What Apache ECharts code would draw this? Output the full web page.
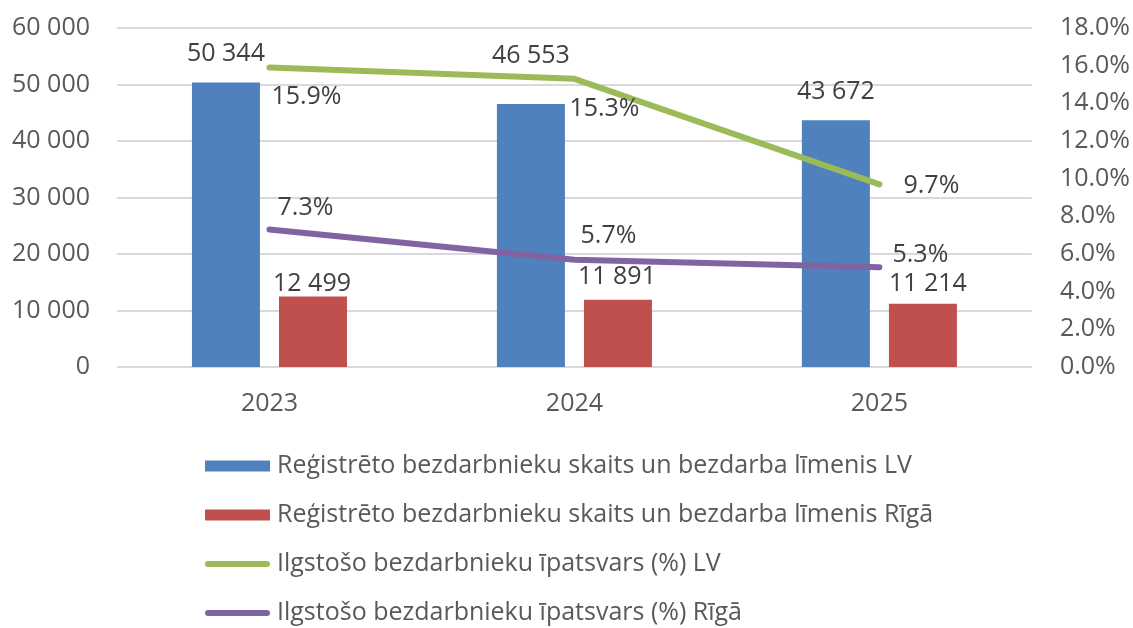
<!DOCTYPE html>
<html>
<head>
<meta charset="utf-8">
<script src="https://cdn.jsdelivr.net/npm/echarts@6/dist/echarts.min.js"></script>
<style>
  html, body { margin: 0; padding: 0; background: #ffffff; }
  #chart { width: 1133px; height: 628px; }
</style>
</head>
<body>
<div id="chart"></div>
<script>
// Unemployment figures, Latvia vs Riga
const years = ['2023', '2024', '2025'];
const registeredLV = [50344, 46553, 43672];
const registeredRiga = [12499, 11891, 11214];
const longTermShareLV = [15.9, 15.3, 9.7];     // %
const longTermShareRiga = [7.3, 5.7, 5.3];     // %

const seriesNames = [
  'Reģistrēto bezdarbnieku skaits un bezdarba līmenis LV',
  'Reģistrēto bezdarbnieku skaits un bezdarba līmenis Rīgā',
  'Ilgstošo bezdarbnieku īpatsvars (%) LV',
  'Ilgstošo bezdarbnieku īpatsvars (%) Rīgā'
];

const FONT = '"Open Sans", "Noto Sans", sans-serif';
const AXIS_GREY = '#595959';
const LABEL_GREY = '#404040';
const GREEN = '#9BBB59';
const PURPLE = '#8064A2';

// thousands with a space: 50344 -> "50 344"
const spaced = v => String(Math.round(v)).replace(/\B(?=(\d{3})+(?!\d))/g, ' ');
const pct = v => v.toFixed(1) + '%';

// hand-placed label nudges (per point)
const barNudgeLV = [[0, -17], [0, -36], [0, -16]];
const barNudgeRiga = [[-1, -1], [-1, -11], [5, -8]];
const lineNudgeLV = [[37, 29], [30, 30], [52, 2]];
const lineNudgeRiga = [[36, -22], [34, -24], [41, -12]];

function withNudge(values, nudges) {
  return values.map((v, i) => ({ value: v, label: { offset: nudges[i] } }));
}

// thick capsule used as the legend mark of the line series
const LINE_ICON = 'path://M3,0 H62 A3,3 0 0 1 62,6 H3 A3,3 0 0 1 3,0 Z';

const barLabel = {
  show: true,
  position: 'top',
  distance: 0,
  formatter: p => spaced(p.value),
  color: LABEL_GREY,
  fontFamily: FONT,
  fontSize: 25,
  lineHeight: 24
};

const lineLabel = {
  show: true,
  position: 'inside',
  formatter: p => pct(p.value),
  color: LABEL_GREY,
  fontFamily: FONT,
  fontSize: 25
};

const chart = echarts.init(document.getElementById('chart'), null, { renderer: 'canvas' });

chart.setOption({
  backgroundColor: '#ffffff',
  animation: false,
  textStyle: { fontFamily: FONT },
  grid: { left: 117, right: 101, top: 28, height: 339, containLabel: false },
  xAxis: {
    type: 'category',
    data: years,
    axisLine: { show: false },
    axisTick: { show: false },
    axisLabel: { color: AXIS_GREY, fontFamily: FONT, fontSize: 25, margin: 24 }
  },
  yAxis: [
    {
      type: 'value',
      min: 0, max: 60000, interval: 10000,
      axisLine: { show: false },
      axisTick: { show: false },
      splitLine: { lineStyle: { color: '#D9D9D9', width: 2 } },
      axisLabel: { color: AXIS_GREY, fontFamily: FONT, fontSize: 25, margin: 27, formatter: spaced }
    },
    {
      type: 'value',
      min: 0, max: 18, interval: 2,
      position: 'right',
      axisLine: { show: false },
      axisTick: { show: false },
      splitLine: { show: false },
      axisLabel: { color: AXIS_GREY, fontFamily: FONT, fontSize: 25, margin: 28, formatter: pct }
    }
  ],
  legend: {
    orient: 'vertical',
    left: 205,
    top: 451,
    height: 400,
    padding: 0,
    itemWidth: 65,
    itemHeight: 11,
    itemGap: 19,
    textStyle: { color: AXIS_GREY, fontFamily: FONT, fontSize: 25, lineHeight: 30, padding: [0, 0, 0, 2] },
    data: [
      { name: seriesNames[0], icon: 'rect' },
      { name: seriesNames[1], icon: 'rect' },
      { name: seriesNames[2], icon: LINE_ICON, itemStyle: { color: GREEN } },
      { name: seriesNames[3], icon: LINE_ICON, itemStyle: { color: PURPLE } }
    ]
  },
  series: [
    {
      name: seriesNames[0],
      type: 'bar',
      yAxisIndex: 0,
      barWidth: 68,
      barGap: '28%',
      itemStyle: { color: '#4F81BD' },
      label: barLabel,
      data: withNudge(registeredLV, barNudgeLV)
    },
    {
      name: seriesNames[1],
      type: 'bar',
      yAxisIndex: 0,
      barWidth: 68,
      barGap: '28%',
      itemStyle: { color: '#C0504D' },
      label: barLabel,
      data: withNudge(registeredRiga, barNudgeRiga)
    },
    {
      name: seriesNames[2],
      type: 'line',
      yAxisIndex: 1,
      symbol: 'circle',
      symbolSize: 1,
      itemStyle: { color: GREEN },
      lineStyle: { color: GREEN, width: 6, cap: 'round', join: 'round' },
      label: lineLabel,
      data: withNudge(longTermShareLV, lineNudgeLV),
      z: 3
    },
    {
      name: seriesNames[3],
      type: 'line',
      yAxisIndex: 1,
      symbol: 'circle',
      symbolSize: 1,
      itemStyle: { color: PURPLE },
      lineStyle: { color: PURPLE, width: 6, cap: 'round', join: 'round' },
      label: lineLabel,
      data: withNudge(longTermShareRiga, lineNudgeRiga),
      z: 3
    }
  ]
});
</script>
</body>
</html>
